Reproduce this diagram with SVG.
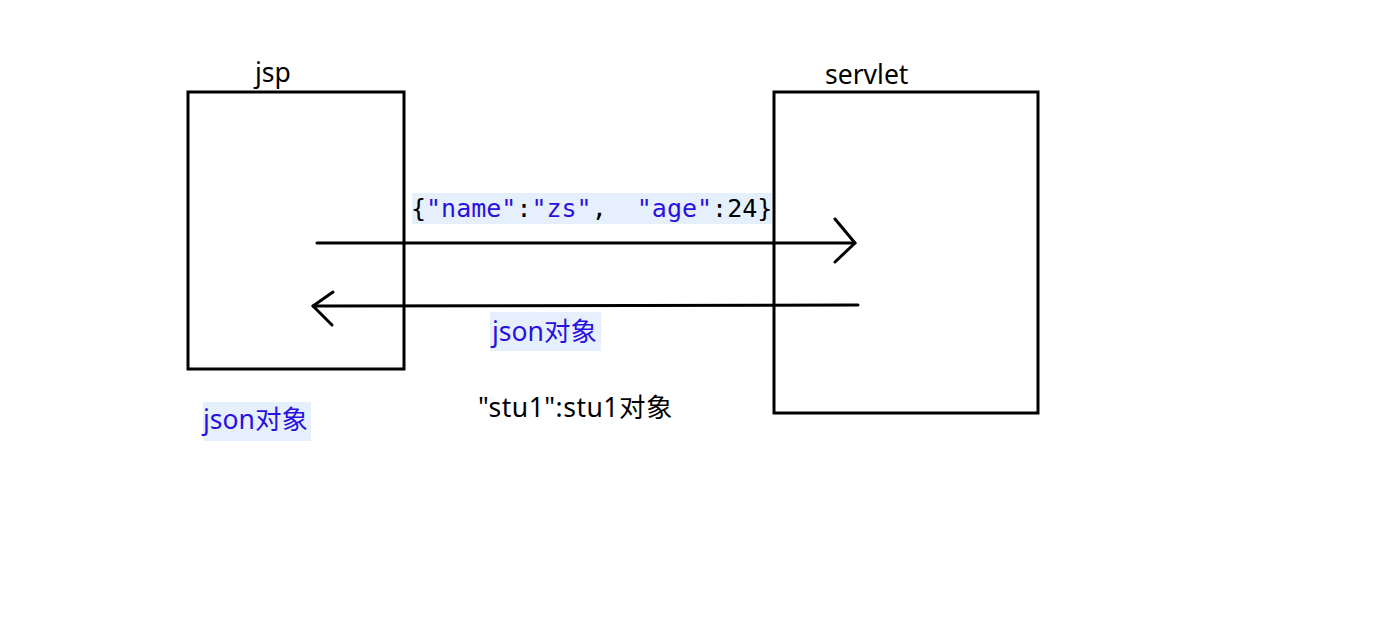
<svg xmlns="http://www.w3.org/2000/svg" width="1392" height="632" viewBox="0 0 1392 632">
<style>
.box{fill:none;stroke:#000;stroke-width:3}
.ln{fill:none;stroke:#000;stroke-width:3;stroke-linecap:round;stroke-linejoin:round}
.t{font-family:"Noto Sans","Noto Sans CJK SC",sans-serif;font-size:26.5px;fill:#000}
.b{fill:#2a10e0}
.hl{fill:#e6f0fc}
.mono{font-family:"DejaVu Sans Mono","Liberation Mono",monospace;font-size:25px;white-space:pre}
</style>
<rect width="1392" height="632" fill="#fff"/>
<g id="jsp">
<rect class="box" x="188" y="92" width="216" height="277"/>
<text class="t" x="255" y="82">jsp</text>
</g>
<g id="servlet">
<rect class="box" x="774" y="92" width="264" height="321"/>
<text class="t" x="825" y="84">servlet</text>
</g>
<g id="connectors">
<line class="ln" x1="317" y1="243" x2="855" y2="243"/>
<polyline class="ln" points="835,219 855,243 835,262"/>
<line class="ln" x1="858" y1="305" x2="313" y2="306"/>
<polyline class="ln" points="333,292 313,306 332,325"/>
</g>
<g id="label-request">
<rect class="hl" x="412" y="193" width="360" height="31"/>
<text class="mono" x="411" y="217" xml:space="preserve"><tspan>{</tspan><tspan class="b">"name"</tspan><tspan>:</tspan><tspan class="b">"zs"</tspan><tspan>,  </tspan><tspan class="b">"age"</tspan><tspan>:24}</tspan></text>
</g>
<g id="label-response">
<rect class="hl" x="490" y="312" width="111" height="39"/>
<text class="t b" x="492" y="341">json对象</text>
</g>
<g id="label-jsp-json">
<rect class="hl" x="203" y="402" width="108" height="39"/>
<text class="t b" x="203" y="429">json对象</text>
</g>
<g id="label-stu">
<text class="t" x="478" y="417" letter-spacing="0.5">"stu1":stu1对象</text>
</g>
</svg>
